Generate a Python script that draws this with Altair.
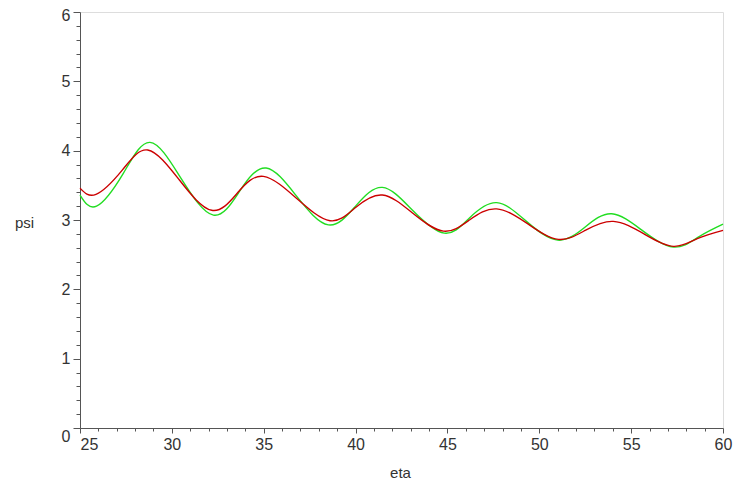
import altair as alt
import pandas as pd

# Red curve (eta, psi)
red_eta = [25.0, 25.87, 27.3, 28.69, 30.4, 32.17, 33.6, 34.98, 36.8, 38.61, 40.0,
           41.46, 43.1, 44.78, 46.2, 47.68, 49.4, 51.04, 52.5, 54.03, 55.7, 57.3, 58.6, 60.0]
red_psi = [3.46, 3.37, 3.72, 4.01, 3.58, 3.14, 3.40, 3.63, 3.31, 2.99, 3.18,
           3.36, 3.10, 2.84, 3.00, 3.16, 2.94, 2.72, 2.85, 2.98, 2.80, 2.62, 2.73, 2.85]

# Green curve
green_eta = [25.0, 25.9, 27.35, 28.81, 30.5, 32.26, 33.7, 35.13, 36.8, 38.52, 40.0,
             41.46, 43.1, 44.83, 46.2, 47.68, 49.3, 51.0, 52.5, 53.94, 55.6, 57.3, 58.7, 60.0]
green_psi = [3.36, 3.20, 3.67, 4.12, 3.60, 3.07, 3.42, 3.75, 3.34, 2.93, 3.20,
             3.47, 3.14, 2.81, 3.03, 3.25, 2.98, 2.71, 2.90, 3.09, 2.85, 2.61, 2.76, 2.94]

x_ticks = list(range(25, 61))
y_ticks = [round(i * 0.2, 1) for i in range(0, 31)]

df = pd.concat([
    pd.DataFrame({"eta": green_eta, "psi": green_psi, "s": "green"}),
    pd.DataFrame({"eta": red_eta, "psi": red_psi, "s": "red"}),
])

FONT = "Liberation Sans"

x_axis = alt.Axis(
    values=x_ticks,
    grid=False,
    domainColor="#555555",
    tickColor="#555555",
    tickSize=alt.expr("datum.value % 5 === 0 ? 5 : 3"),
    labelExpr="datum.value % 5 === 0 ? datum.label : ''",
    labelAlign=alt.expr("datum.value === 25 ? 'left' : 'center'"),
    labelFont=FONT, labelFontSize=16, labelColor="#333333",
    labelPadding=3, labelOverlap=False,
    title="eta", titleFont=FONT, titleFontSize=15, titleFontWeight="normal",
    titleColor="#333333", titleX=320, titleY=44,
    titleAlign="center", titleBaseline="middle",
)

y_axis = alt.Axis(
    values=y_ticks,
    grid=False,
    domainColor="#555555",
    tickColor="#555555",
    tickSize=alt.expr("abs(datum.value - round(datum.value)) < 0.001 ? 7 : 4"),
    labelExpr="abs(datum.value - round(datum.value)) < 0.001 ? format(datum.value, 'd') : ''",
    labelBaseline=alt.expr("datum.value === 0 ? 'top' : 'middle'"),
    labelOffset=alt.expr("datum.value === 6 ? 3.5 : 0"),
    labelFont=FONT, labelFontSize=16, labelColor="#333333",
    labelPadding=3, labelOverlap=False,
    title="psi", titleFont=FONT, titleFontSize=15, titleFontWeight="normal",
    titleColor="#333333", titleAngle=0, titleX=-56, titleY=210,
    titleAlign="center", titleBaseline="middle",
)

chart = alt.Chart(df).mark_line(strokeWidth=1.4, interpolate="natural").encode(
    x=alt.X("eta:Q", scale=alt.Scale(domain=[25, 60], nice=False, zero=False), axis=x_axis),
    y=alt.Y("psi:Q", scale=alt.Scale(domain=[0, 6], nice=False), axis=y_axis),
    color=alt.Color("s:N", scale=alt.Scale(domain=["green", "red"], range=["#22dd22", "#cc0000"]), legend=None),
    order=alt.Order("eta:Q"),
).properties(
    width=643, height=416,
    autosize=alt.AutoSizeParams(type="none"),
    padding={"left": 72, "top": 4, "right": 16, "bottom": 57},
).configure_view(stroke=None).configure(background="white")

chart.save("out.html", embed_options={"renderer": "svg", "actions": False})
